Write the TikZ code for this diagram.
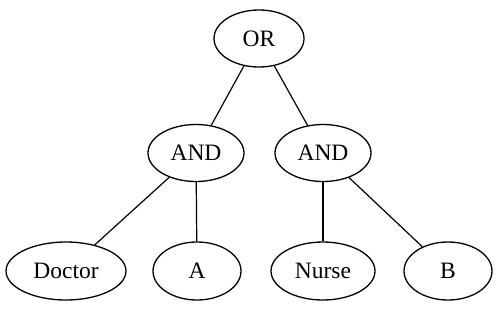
\documentclass[tikz,border=0pt]{standalone}
\usepackage{fontspec}
\setmainfont{Liberation Serif}
\usetikzlibrary{shapes.geometric}
\tikzset{
  tnode/.style={ellipse, draw, line width=1.3pt, inner sep=0pt,
    font=\fontsize{23.5}{27}\selectfont},
  tedge/.style={line width=1.2pt}
}
\begin{document}
\begin{tikzpicture}[x=1pt, y=-1pt]
  \useasboundingbox (0,0) rectangle (500,335);
  \fill[white] (0,0) rectangle (500,335);
  \node[tnode, minimum width=90pt, minimum height=57pt] (or) at (259,38.5) {OR};
  \node[tnode, minimum width=96pt, minimum height=57pt] (andl) at (196,153) {AND};
  \node[tnode, minimum width=96pt, minimum height=57pt] (andr) at (323,153) {AND};
  \node[tnode, minimum width=120pt, minimum height=58pt] (doctor) at (66,271) {Doctor};
  \node[tnode, minimum width=88pt, minimum height=58pt] (a) at (197,271) {A};
  \node[tnode, minimum width=104pt, minimum height=58pt] (nurse) at (323,271) {Nurse};
  \node[tnode, minimum width=88pt, minimum height=58pt] (b) at (448,271) {B};
  \draw[tedge] (or) -- (andl);
  \draw[tedge] (or) -- (andr);
  \draw[tedge] (andl) -- (doctor);
  \draw[tedge] (andl) -- (a);
  \draw[tedge] (andr) -- (nurse);
  \draw[tedge] (andr) -- (b);
\end{tikzpicture}
\end{document}
